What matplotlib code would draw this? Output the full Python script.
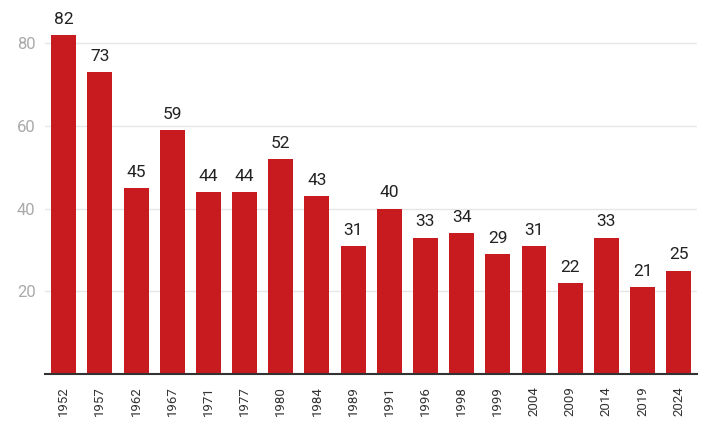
import matplotlib.pyplot as plt
import numpy as np

plt.rcParams["font.family"] = ["Roboto", "DejaVu Sans"]

years = ["1952", "1957", "1962", "1967", "1971", "1977", "1980", "1984", "1989",
         "1991", "1996", "1998", "1999", "2004", "2009", "2014", "2019", "2024"]
values = [82, 73, 45, 59, 44, 44, 52, 43, 31, 40, 33, 34, 29, 31, 22, 33, 21, 25]
yticks = [20, 40, 60, 80]

bar_color = "#c81b1f"

fig = plt.figure(figsize=(7.18, 4.4), dpi=100)
ax = fig.add_axes([0.063, 0.15, 0.908, 0.85])

x = np.arange(len(years))
ax.bar(x, values, width=0.69, color=bar_color, zorder=2)

for xi, v in zip(x, values):
    ax.text(xi, v + 2.0, str(v), ha="center", va="bottom",
            fontsize=12.5, color="#222222")

ax.set_xlim(-0.51, len(years) - 0.49)
ax.set_ylim(0, 90.5)

ax.set_yticks(yticks)
ax.set_yticklabels([str(t) for t in yticks], fontsize=12, color="#aaaaaa")
ax.set_xticks(x)
ax.set_xticklabels(years, rotation=90, fontsize=9.5, color="#333333")
ax.tick_params(axis="both", length=0)
ax.tick_params(axis="x", pad=9)
ax.tick_params(axis="y", pad=7)

ax.grid(axis="y", color="#e6e6e6", linewidth=1, zorder=0)

for side in ["top", "right", "left"]:
    ax.spines[side].set_visible(False)
ax.spines["bottom"].set_color("#333333")
ax.spines["bottom"].set_linewidth(1.5)
ax.spines["bottom"].set_zorder(3)

plt.savefig("out.png", dpi=100)
